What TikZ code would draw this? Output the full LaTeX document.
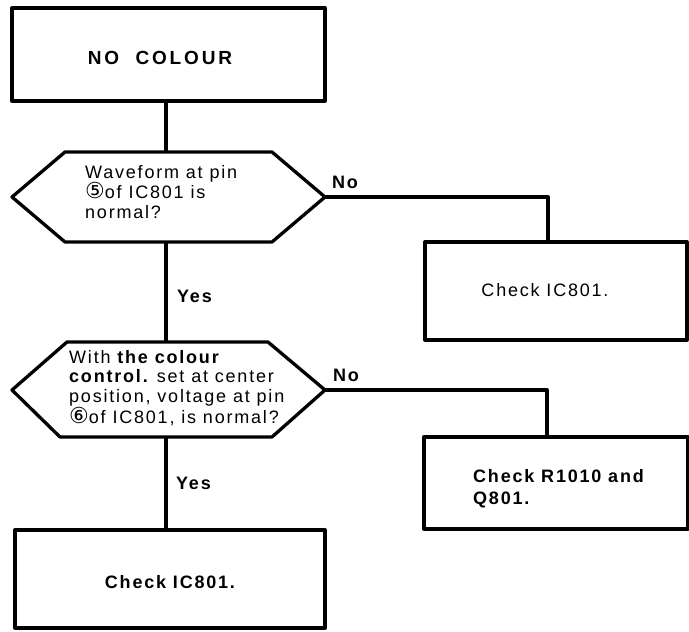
\documentclass[tikz,border=0pt]{standalone}
\usepackage{fontspec}
\setmainfont{Liberation Sans}[LetterSpace=10]
\newfontfamily\circfont{DejaVu Sans}
\newcommand{\circnum}[1]{{\circfont\fontsize{22}{20}\selectfont #1}}
\begin{document}
\begin{tikzpicture}[x=1pt,y=-1pt,
  line join=round,
  box/.style={draw, line width=3.3pt, rectangle, inner sep=0pt},
  hexline/.style={draw, line width=3.3pt},
  link/.style={draw, line width=3.3pt},
  txt/.style={font=\fontsize{18}{20}\selectfont, inner sep=0pt},
  boldtxt/.style={font=\fontsize{18}{20}\selectfont\bfseries, inner sep=0pt},
  lbl/.style={font=\fontsize{18}{20}\selectfont\bfseries, inner sep=0pt, anchor=base west}]
\useasboundingbox (0,0) rectangle (689,632);

% boxes
\node (b1) [box, minimum width=313pt, minimum height=93pt] at (168.5,54.5) {};
\node (b2) [box, minimum width=262pt, minimum height=98pt] at (556,291) {};
\node (b3) [box, minimum width=264pt, minimum height=92pt] at (556,483) {};
\node (b4) [box, minimum width=310pt, minimum height=98pt] at (170,579) {};

% hexagon 1
\coordinate (h1w) at (12,197);
\coordinate (h1nw) at (65,152);
\coordinate (h1ne) at (272,152);
\coordinate (h1e) at (325,197);
\coordinate (h1se) at (272,242);
\coordinate (h1sw) at (65,242);
\coordinate (h1n) at (166,152);
\coordinate (h1s) at (166,242);
\draw[hexline] (h1w) -- (h1nw) -- (h1ne) -- (h1e) -- (h1se) -- (h1sw) -- cycle;

% hexagon 2
\coordinate (h2w) at (12,390);
\coordinate (h2nw) at (67,342);
\coordinate (h2ne) at (268,342);
\coordinate (h2e) at (325,390);
\coordinate (h2se) at (272,437);
\coordinate (h2sw) at (60,437);
\coordinate (h2n) at (166,342);
\coordinate (h2s) at (166,437);
\draw[hexline] (h2w) -- (h2nw) -- (h2ne) -- (h2e) -- (h2se) -- (h2sw) -- cycle;

% entry points on boxes
\coordinate (b2in) at (548,242);
\coordinate (b3in) at (547,437);

% connectors
\draw[link] (h1n |- b1.south) -- (h1n);
\draw[link] (h1s) -- (h2n);
\draw[link] (h1e) -| (b2in);
\draw[link] (h2e) -| (b3in);
\draw[link] (h2s) -- (h2s |- b4.north);

% labels
\node (no1) [lbl] at (332,188) {No};
\node (yes1) [lbl] at (177,302) {Yes};
\node (no2) [lbl] at (333,381) {No};
\node (yes2) [lbl] at (176,489) {Yes};

% texts
\node (t1) [font=\fontsize{19}{20}\selectfont\bfseries\addfontfeature{LetterSpace=15}, inner sep=0pt] at (160,58) {NO\ \ COLOUR};
\node (t2) [txt, align=left, anchor=base west] at (85,218)
  {Waveform at pin\\\circnum{⑤}of IC801 is\\normal?};
\node (t3) [txt, anchor=center] at (545,290) {Check IC801.};
\node (t4) [font=\fontsize{18}{19.5}\selectfont, inner sep=0pt, align=left, anchor=base west] at (69,423)
  {With {\bfseries the colour}\\{\bfseries control.} set at center\\position, voltage at pin\\\circnum{⑥}of IC801, is normal?};
\node (t5) [align=left, anchor=base west, inner sep=0pt, font=\fontsize{18}{22}\selectfont\bfseries] at (473,504)
  {Check R1010 and\\Q801.};
\node (t6) [boldtxt, anchor=center] at (170,582) {Check IC801.};
\end{tikzpicture}
\end{document}
